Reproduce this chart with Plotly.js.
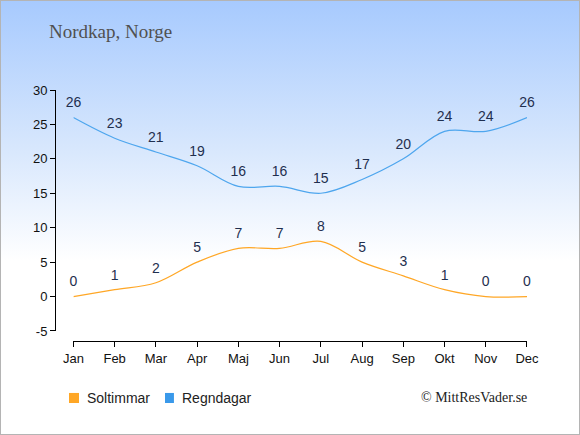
<!DOCTYPE html>
<html>
<head>
<meta charset="utf-8">
<script src="https://cdn.plot.ly/plotly-3.0.1.min.js"></script>
<style>
html,body{margin:0;padding:0;}
#wrap{width:578px;height:433px;border:1px solid #b4b4b4;background:linear-gradient(to bottom,#a7cafe 0%,#d9e8fd 35%,#ffffff 60%,#ffffff 100%);}
#chart{width:578px;height:433px;}
</style>
</head>
<body>
<div id="wrap"><div id="chart"></div></div>
<script>
const months = ["Jan","Feb","Mar","Apr","Maj","Jun","Jul","Aug","Sep","Okt","Nov","Dec"];
const soltimmar = [0,1,2,5,7,7,8,5,3,1,0,0];
const regndagar = [26,23,21,19,16,16,15,17,20,24,24,26];
const yTicks = [-5,0,5,10,15,20,25,30];
const seriesNames = ["Soltimmar","Regndagar"];
const sunColor = "#ffa726", rainColor = "#4ea6ee";

const labelFont = {family:"Liberation Sans, Arial, sans-serif", size:14, color:"#1f2f4f"};
function lineTrace(name, vals, color){
  return {x:months, y:vals, name:name, type:"scatter", mode:"lines+markers+text",
    text:vals.map(String), textposition:"top center", textfont:labelFont, cliponaxis:false,
    marker:{size:9, opacity:0, color:color}, showlegend:false,
    line:{color:color, width:1.2, shape:"spline", smoothing:1}};
}
const traces = [
  lineTrace(seriesNames[0], soltimmar, sunColor),
  lineTrace(seriesNames[1], regndagar, rainColor)
];
const legFont = {family:"Liberation Sans, Arial, sans-serif", size:14, color:"#222"};
const legY = -0.227;
const layout = {
  width:578, height:433,
  paper_bgcolor:"rgba(0,0,0,0)", plot_bgcolor:"rgba(0,0,0,0)",
  margin:{l:54, r:52, t:89, b:93},
  showlegend:false,
  title:{text:"Nordkap, Norge", x:0.083, xanchor:"left", y:0.93, yanchor:"middle",
    font:{family:"Liberation Serif, DejaVu Serif, serif", size:19, color:"#505050"}},
  xaxis:{type:"category", range:[0,11], domain:[0.039,1], anchor:"free", position:0,
    showline:true, linecolor:"#000", linewidth:1, ticks:"outside", ticklen:5, tickcolor:"#000",
    showgrid:false, zeroline:false, fixedrange:true,
    tickfont:{family:"Liberation Sans, Arial, sans-serif", size:13, color:"#111"}},
  yaxis:{range:[-5,30], domain:[0.04,1], anchor:"free", position:0,
    tickvals:yTicks, ticktext:yTicks.map(String),
    showline:true, linecolor:"#000", linewidth:1, ticks:"outside", ticklen:5, tickcolor:"#000",
    showgrid:false, zeroline:false, fixedrange:true,
    tickfont:{family:"Liberation Sans, Arial, sans-serif", size:13, color:"#111"}},
  shapes:[
    {type:"rect", xref:"paper", yref:"paper", x0:0.0297, x1:0.0508, y0:-0.247, y1:-0.207,
     fillcolor:sunColor, line:{width:0}},
    {type:"rect", xref:"paper", yref:"paper", x0:0.233, x1:0.252, y0:-0.247, y1:-0.207,
     fillcolor:"#3a99ea", line:{width:0}}
  ],
  annotations:[
    {text:seriesNames[0], xref:"paper", yref:"paper", x:0.0636, y:legY, xanchor:"left", yanchor:"middle",
     showarrow:false, font:legFont},
    {text:seriesNames[1], xref:"paper", yref:"paper", x:0.265, y:legY, xanchor:"left", yanchor:"middle",
     showarrow:false, font:legFont},
    {text:"© MittResVader.se", xref:"paper", yref:"paper", x:1.005, y:legY,
    xanchor:"right", yanchor:"middle", showarrow:false,
    font:{family:"Liberation Serif, DejaVu Serif, serif", size:14, color:"#222"}}]
};
Plotly.newPlot("chart", traces, layout, {displayModeBar:false, staticPlot:true});
</script>
</body>
</html>
